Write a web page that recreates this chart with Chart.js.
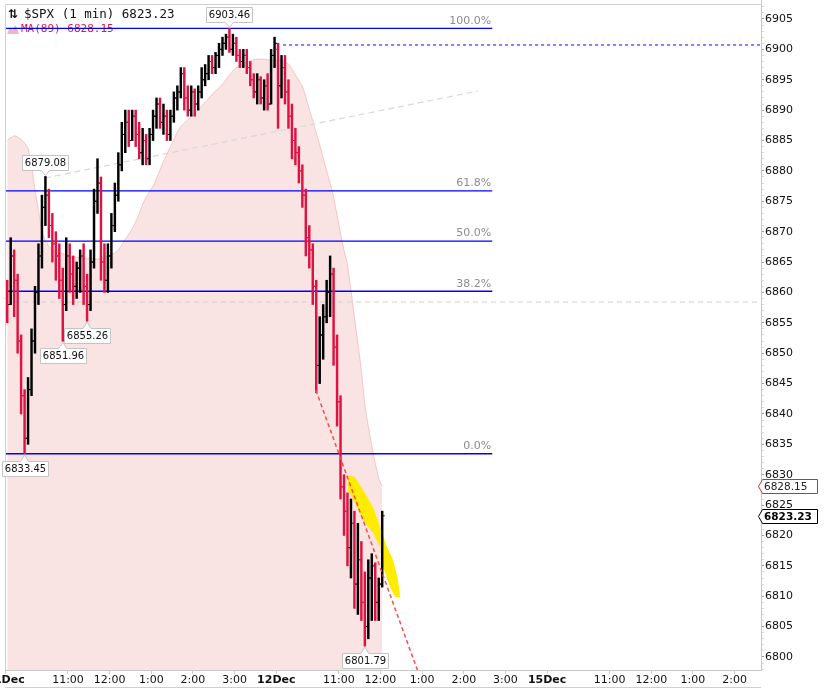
<!DOCTYPE html>
<html>
<head>
<meta charset="utf-8">
<title>$SPX (1 min)</title>
<script src="https://cdn.jsdelivr.net/npm/chart.js@4.4.1/dist/chart.umd.min.js"></script>
<style>
  html, body { margin: 0; padding: 0; background: #fff; }
  #wrap { position: relative; width: 831px; height: 689px; }
</style>
</head>
<body>
<div id="wrap"><canvas id="spxChart"></canvas></div>
<script>
// time axis: trading minutes since Dec 11 9:30 (sessions joined end to end)
const sessionStart = [0, 390];
const barMinutes = 5;

// Dec 11 session (5 min bars)
const d1Open  = [6859, 6858, 6866, 6862, 6852, 6843, 6836, 6844, 6852, 6860, 6866, 6874, 6876, 6871, 6868, 6866, 6862, 6858, 6866, 6863,
                 6861, 6864, 6866, 6861, 6858, 6865, 6875, 6878, 6865, 6862, 6866, 6871, 6876, 6881, 6886, 6888, 6885, 6889, 6886, 6883,
                 6885, 6882, 6886, 6889, 6891, 6888, 6889, 6886, 6889, 6892, 6893, 6896, 6892, 6890, 6893, 6891, 6893, 6895, 6896, 6898,
                 6897, 6899, 6900, 6901, 6902, 6900, 6901, 6899, 6898, 6899, 6897, 6895, 6893, 6895, 6892, 6894, 6891, 6899];
const d1High  = [6862, 6869, 6867, 6863, 6853, 6844, 6846, 6854, 6861, 6868, 6876, 6879.08, 6877, 6873, 6870, 6868, 6864, 6869, 6868, 6866,
                 6865, 6867, 6868, 6863, 6867, 6877, 6882, 6879, 6868, 6868, 6873, 6878, 6883, 6888, 6890, 6890, 6890, 6890, 6888, 6887,
                 6886, 6887, 6890, 6892, 6892, 6891, 6890, 6890, 6893, 6894, 6897, 6897, 6894, 6894, 6893.5, 6894, 6897, 6897.5, 6899, 6899,
                 6899.5, 6901, 6902, 6902.5, 6903.46, 6902.5, 6902, 6900, 6900, 6900, 6898, 6896, 6896, 6895.5, 6895, 6896, 6900, 6902];
const d1Low   = [6855, 6858, 6856, 6850, 6840, 6833.45, 6835, 6843, 6850, 6858, 6864, 6871, 6869, 6865, 6862, 6859, 6851.96, 6857, 6860, 6858,
                 6859, 6860, 6858, 6855.26, 6857, 6864, 6873, 6862, 6860, 6860, 6864, 6870, 6875, 6880, 6883, 6884, 6885, 6884, 6882, 6881,
                 6881, 6881, 6885, 6887, 6887, 6886, 6885, 6885, 6888, 6890, 6892, 6890, 6889, 6889, 6889, 6890, 6892, 6894, 6895, 6896,
                 6896, 6897, 6899, 6900, 6899.5, 6899, 6898, 6897, 6897, 6896, 6894, 6892, 6891, 6891, 6890, 6890, 6891, 6897];
const d1Close = [6858, 6866, 6862, 6852, 6843, 6836, 6844, 6852, 6860, 6866, 6874, 6876, 6871, 6868, 6866, 6862, 6858, 6866, 6863, 6861,
                 6864, 6866, 6861, 6858, 6865, 6875, 6878, 6865, 6862, 6866, 6871, 6876, 6881, 6886, 6888, 6885, 6889, 6886, 6883, 6885,
                 6882, 6886, 6889, 6891, 6888, 6889, 6886, 6889, 6892, 6893, 6896, 6892, 6890, 6893, 6891, 6893, 6895, 6896, 6898, 6897,
                 6899, 6900, 6901, 6902, 6900, 6901, 6899, 6898, 6899, 6897, 6895, 6893, 6895, 6892, 6894, 6891, 6899, 6901];
const d1Ma    = [6885.0, 6885.5, 6885.8, 6885.6, 6885.2, 6884.6, 6883.8, 6881.0, 6877.0, 6873.5, 6870.0, 6868.6, 6867.6, 6867.1, 6866.8, 6866.6, 6866.4, 6866.2, 6866.0, 6865.9,
                 6865.8, 6865.8, 6865.7, 6865.6, 6865.6, 6865.5, 6865.5, 6865.6, 6865.8, 6866.0, 6866.2, 6866.5, 6867.0, 6867.8, 6868.8, 6869.6, 6870.5, 6871.6, 6873.0, 6874.5,
                 6875.7, 6876.6, 6877.5, 6878.8, 6880.2, 6881.6, 6882.8, 6884.0, 6885.2, 6886.4, 6887.3, 6887.9, 6888.4, 6888.9, 6889.5, 6890.1, 6890.7, 6891.3, 6891.9, 6892.6,
                 6893.2, 6893.7, 6894.3, 6895.0, 6895.8, 6896.5, 6897.0, 6897.4, 6897.7, 6897.9, 6898.1, 6898.3, 6898.4, 6898.4, 6898.4, 6898.3, 6898.2, 6898.2];

// Dec 12 session up to ~12:05
const d2Open  = [6900, 6894, 6897, 6893, 6889, 6885, 6883, 6880, 6876, 6869, 6867, 6861, 6848, 6853, 6856, 6860, 6863, 6851, 6842, 6828,
                 6824, 6818, 6822, 6812, 6816, 6809, 6805, 6813, 6815, 6809, 6812];
const d2High  = [6901, 6899, 6899, 6895, 6891, 6887, 6884, 6881, 6877, 6871, 6868, 6862, 6856, 6858, 6862, 6866, 6864, 6853, 6843, 6830,
                 6827, 6826, 6824, 6822, 6819, 6814, 6816, 6817, 6815.5, 6813, 6824];
const d2Low   = [6887, 6892, 6891, 6887, 6882, 6881, 6878, 6874, 6866, 6864, 6858, 6843.5, 6845, 6849, 6855, 6856, 6848, 6838, 6826, 6820,
                 6815, 6813, 6808, 6807, 6806, 6801.79, 6803, 6806, 6806, 6806, 6811.5];
const d2Close = [6894, 6897, 6893, 6889, 6885, 6883, 6880, 6876, 6869, 6867, 6861, 6848, 6853, 6856, 6860, 6863, 6851, 6842, 6828, 6824,
                 6818, 6822, 6812, 6816, 6809, 6805, 6813, 6815, 6809, 6812, 6823.23];
const d2Ma    = [6898.2, 6898.3, 6898.0, 6897.6, 6896.8, 6895.8, 6894.9, 6894.0, 6892.2, 6890.2, 6888.3, 6886.3, 6884.3, 6882.2, 6880.0, 6878.0, 6875.8, 6872.8, 6869.8, 6867.0,
                 6864.6, 6860.5, 6856.0, 6851.7, 6847.3, 6841.5, 6838.0, 6834.8, 6831.9, 6829.4, 6828.15];

// fibonacci retracement between the 6833.45 low and the 6903.46 high
const fibHigh = 6903.46, fibLow = 6833.45;
const fibRatios = [1, 0.618, 0.5, 0.382, 0];
const fibLabels = ['100.0%', '61.8%', '50.0%', '38.2%', '0.0%'];
const fibEnd = 701;

// drawn lines: [minute, price]
const resistLine = [[399.7, 6900.72], [1088, 6900.72]];
const upTrend    = [[56.9, 6878.83], [680.5, 6893.15]];
const midLine    = [[-0.7, 6858.42], [1088, 6858.42]];
const downTrend  = [[447.0, 6843.9], [598.4, 6796.2]];
const bandTime  = [493.3, 503.4, 514.9, 529.3, 539.4, 549.5, 558.1, 565.3, 568.2, 561.0, 553.8, 543.7, 539.4, 529.3, 514.9, 506.3, 493.3];
const bandPrice = [6829.95, 6829.62, 6827.48, 6824.68, 6821.39, 6818.10, 6815.96, 6812.67, 6809.87, 6809.87, 6811.52, 6814.81, 6818.10, 6820.41, 6822.55, 6824.68, 6827.48];

// marked highs / lows: [minute, price, above?]
const pivots = [[322.5, 6903.46, true], [57.5, 6879.08, true], [82.5, 6851.96, false],
                [117.5, 6855.26, false], [27.5, 6833.45, false], [517.5, 6801.79, false]];

// axes
const xTickMinutes = [0, 90, 150, 210, 270, 330, 390, 480, 540, 600, 660, 720, 780, 870, 930, 990, 1050];
const xTickLabels = ['11Dec', '11:00', '12:00', '1:00', '2:00', '3:00', '12Dec', '11:00', '12:00', '1:00', '2:00', '3:00',
                     '15Dec', '11:00', '12:00', '1:00', '2:00'];
const yTickLabels = [6800, 6805, 6810, 6815, 6820, 6825, 6830, 6835, 6840, 6845, 6850, 6855, 6860, 6865, 6870, 6875,
                     6880, 6885, 6890, 6895, 6900, 6905];

const upColor = '#000000';
const downColor = '#dd1443';
const fibColor = '#0000ff';

// build the bar list
const bars = [];
function addSession(start, o, h, l, c, ma) {
    for (let i = 0; i < o.length; i++) {
        bars.push({ t: start + barMinutes / 2 + i * barMinutes, o: o[i], h: h[i], l: l[i], c: c[i], ma: ma[i] });
    }
}
addSession(sessionStart[0], d1Open, d1High, d1Low, d1Close, d1Ma);
addSession(sessionStart[1], d2Open, d2High, d2Low, d2Close, d2Ma);
const lastBar = bars[bars.length - 1];

const pts = arr => arr.map(p => ({ x: p[0], y: p[1] }));
const plainLine = (data, color, width, dash, order) => ({
    type: 'line', data: data, borderColor: color, borderWidth: width, borderDash: dash,
    pointRadius: 0, fill: false, tension: 0, order: order
});

const datasets = [
    {
        type: 'line',
        data: bars.map(b => ({ x: b.t, y: b.ma })),
        borderColor: 'rgba(215, 60, 60, 0.22)',
        borderWidth: 1,
        backgroundColor: 'rgba(215, 60, 60, 0.14)',
        fill: 'start',
        pointRadius: 0,
        tension: 0,
        order: 10
    },
    {
        type: 'line',
        data: bandTime.map((t, i) => ({ x: t, y: bandPrice[i] })),
        borderWidth: 0,
        borderColor: 'rgba(0,0,0,0)',
        backgroundColor: '#ffec00',
        fill: 'shape',
        pointRadius: 0,
        tension: 0,
        order: 9
    },
    plainLine(pts(midLine), '#d0d0d0', 1, [5, 4], 8),
    plainLine(pts(upTrend), '#d8d8d8', 1.2, [6, 4], 8),
    plainLine(pts(resistLine), '#2f2fff', 1.2, [3, 3], 7)
];
fibRatios.forEach(r => {
    const level = fibLow + r * (fibHigh - fibLow);
    datasets.push(plainLine([{ x: -0.7, y: level }, { x: fibEnd, y: level }], fibColor, 1.3, [], 6));
});
datasets.push({
    type: 'bar',
    data: bars.map(b => ({ x: b.t, y: [b.l, b.h] })),
    backgroundColor: bars.map(b => b.c >= b.o ? upColor : downColor),
    borderWidth: 0,
    barThickness: 1.8,
    order: 2
});
datasets.push(plainLine(pts(downTrend), '#ff4a4a', 1.5, [4, 3], 1));

function pivotTag(ctx, px, py, text, above) {
    ctx.font = '10px "DejaVu Sans"';
    const w = Math.round(ctx.measureText(text).width) + 5, h = 15;
    const bx = Math.round(px - w / 2) + 0.5;
    const by = above ? Math.round(py) - 6 - h + 0.5 : Math.round(py) + 7 + 0.5;
    ctx.beginPath();
    if (above) {
        ctx.moveTo(bx, by); ctx.lineTo(bx + w, by); ctx.lineTo(bx + w, by + h);
        ctx.lineTo(px + 4, by + h); ctx.lineTo(px, py - 1); ctx.lineTo(px - 4, by + h);
        ctx.lineTo(bx, by + h);
    } else {
        ctx.moveTo(bx, by); ctx.lineTo(px - 4, by); ctx.lineTo(px, py + 1); ctx.lineTo(px + 4, by);
        ctx.lineTo(bx + w, by); ctx.lineTo(bx + w, by + h); ctx.lineTo(bx, by + h);
    }
    ctx.closePath();
    ctx.fillStyle = '#ffffff';
    ctx.fill();
    ctx.strokeStyle = '#c4c4c4';
    ctx.lineWidth = 1;
    ctx.stroke();
    ctx.fillStyle = '#111';
    ctx.textAlign = 'center';
    ctx.textBaseline = 'middle';
    ctx.fillText(text, bx + w / 2, by + h / 2 + 0.5);
}

function axisTag(ctx, py, text, color, bold) {
    const x0 = 762.5, x1 = 817.5, yc = Math.round(py) + 0.5;
    ctx.beginPath();
    ctx.moveTo(x0 - 4, yc); ctx.lineTo(x0, yc - 7); ctx.lineTo(x1, yc - 7);
    ctx.lineTo(x1, yc + 7); ctx.lineTo(x0, yc + 7); ctx.closePath();
    ctx.fillStyle = '#ffffff';
    ctx.fill();
    ctx.strokeStyle = color;
    ctx.lineWidth = 1;
    ctx.stroke();
    ctx.font = (bold ? 'bold 10.5px' : '10.5px') + ' "DejaVu Sans"';
    ctx.fillStyle = bold ? '#000' : '#222';
    ctx.textAlign = 'left';
    ctx.textBaseline = 'middle';
    ctx.fillText(text, x0 + 1.5, yc + 0.5);
}

const overlay = {
    id: 'overlay',
    beforeDatasetsDraw(chart) {
        const ctx = chart.ctx;
        ctx.save();
        // legend
        ctx.fillStyle = '#111';
        ctx.textBaseline = 'middle';
        ctx.textAlign = 'left';
        ctx.font = 'bold 12px "DejaVu Sans"';
        ctx.fillText('⇅', 8, 15);
        ctx.font = '12.5px "DejaVu Sans Mono"';
        ctx.fillText('$SPX (1 min) ' + lastBar.c.toFixed(2), 24, 15);
        ctx.fillStyle = '#f2b6c2';
        ctx.beginPath();
        ctx.moveTo(7, 34); ctx.lineTo(10, 27); ctx.lineTo(12.5, 30); ctx.lineTo(15.5, 25); ctx.lineTo(19, 34);
        ctx.closePath();
        ctx.fill();
        ctx.fillStyle = '#e8163f';
        ctx.font = '11px "DejaVu Sans Mono"';
        ctx.fillText('MA(89) ' + lastBar.ma.toFixed(2), 21, 29.5);
        ctx.restore();
    },
    afterDatasetsDraw(chart) {
        const { ctx, scales: { x, y } } = chart;
        ctx.save();
        ctx.lineWidth = 1;
        bars.forEach(b => {
            const px = x.getPixelForValue(b.t);
            const yo = y.getPixelForValue(b.o);
            const yc = y.getPixelForValue(b.c);
            ctx.strokeStyle = b.c >= b.o ? upColor : downColor;
            ctx.beginPath();
            ctx.moveTo(px - 2.5, yo); ctx.lineTo(px, yo);
            ctx.moveTo(px, yc); ctx.lineTo(px + 2.5, yc);
            ctx.stroke();
        });
        ctx.restore();
    },
    afterDraw(chart) {
        const { ctx, chartArea: a, scales: { x, y } } = chart;
        ctx.save();
        // frame
        ctx.strokeStyle = '#cfcfcf';
        ctx.lineWidth = 1;
        ctx.beginPath();
        ctx.moveTo(a.left + 0.5, a.bottom); ctx.lineTo(a.left + 0.5, a.top - 0.5);
        ctx.lineTo(a.right, a.top - 0.5);
        ctx.moveTo(a.right + 0.5, 0); ctx.lineTo(a.right + 0.5, a.top);
        ctx.moveTo(a.left, 687.5); ctx.lineTo(a.right, 687.5);
        ctx.stroke();

        // fib level labels
        ctx.font = '11px "DejaVu Sans"';
        ctx.fillStyle = '#8c8c8c';
        ctx.textAlign = 'right';
        ctx.textBaseline = 'bottom';
        const fx = x.getPixelForValue(fibEnd) - 1;
        fibRatios.forEach((r, i) => {
            const py = y.getPixelForValue(fibLow + r * (fibHigh - fibLow));
            ctx.fillText(fibLabels[i], fx, py - 2);
        });

        // pivot price tags
        pivots.forEach(p => {
            pivotTag(ctx, x.getPixelForValue(p[0]), y.getPixelForValue(p[1]), p[1].toFixed(2), p[2]);
        });

        // right axis tags
        axisTag(ctx, y.getPixelForValue(lastBar.ma), lastBar.ma.toFixed(2), '#e0204a', false);
        axisTag(ctx, y.getPixelForValue(lastBar.c), lastBar.c.toFixed(2), '#000', true);
        ctx.restore();
    }
};

new Chart(document.getElementById('spxChart'), {
    type: 'line',
    data: { datasets: datasets },
    options: {
        responsive: true,
        maintainAspectRatio: false,
        animation: false,
        events: [],
        layout: { padding: { top: 5, left: 5, right: 0, bottom: 0 }, autoPadding: false },
        plugins: { legend: { display: false }, tooltip: { enabled: false } },
        scales: {
            x: {
                type: 'linear',
                offset: false,
                min: -0.7,
                max: 1088,
                afterBuildTicks: s => { s.ticks = xTickMinutes.map(v => ({ value: v })); },
                afterFit: s => { s.height = 19; s.paddingLeft = 0; s.paddingRight = 0; },
                grid: { drawOnChartArea: false, offset: false, tickLength: 4, tickColor: '#cccccc' },
                border: { color: '#c8c8c8' },
                ticks: {
                    autoSkip: false,
                    maxRotation: 0,
                    padding: 0,
                    color: '#111',
                    font: ctx => ({ family: 'DejaVu Sans', size: 11,
                        weight: /Dec$/.test(xTickLabels[ctx.index] || '') ? 'bold' : 'normal' }),
                    callback: (v, i) => xTickLabels[i]
                }
            },
            y: {
                position: 'right',
                min: 6797.86,
                max: 6907.30,
                afterBuildTicks: s => {
                    const t = [];
                    for (let v = 6798; v <= 6907; v++) t.push({ value: v });
                    s.ticks = t;
                },
                afterFit: s => { s.width = 70; s.paddingTop = 0; s.paddingBottom = 0; },
                grid: {
                    drawOnChartArea: false,
                    tickLength: 3,
                    tickColor: ctx => (ctx.tick && yTickLabels.includes(ctx.tick.value)) ? '#9a9a9a' : '#d8d8d8'
                },
                border: { color: '#c8c8c8' },
                ticks: {
                    autoSkip: false,
                    padding: 1,
                    color: '#111',
                    font: { family: 'DejaVu Sans', size: 11 },
                    callback: v => yTickLabels.includes(v) ? String(v) : ''
                }
            }
        }
    },
    plugins: [overlay]
});
</script>
</body>
</html>
